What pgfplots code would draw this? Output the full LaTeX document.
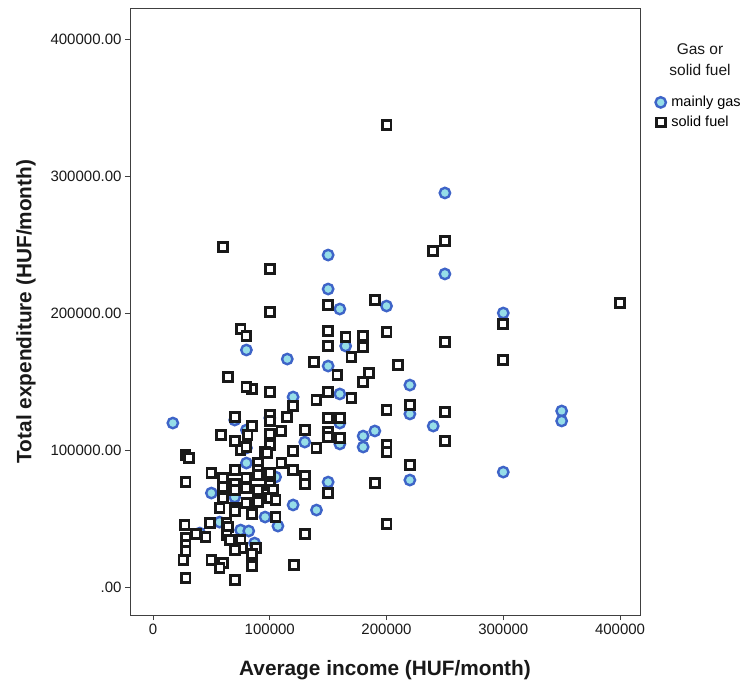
\documentclass[border=0pt]{standalone}
\usepackage{pgfplots}
\pgfplotsset{compat=1.18}
\usepackage{fontspec}
\setmainfont{Liberation Sans}
\definecolor{gasedge}{RGB}{62,100,200}
\definecolor{gasfill}{RGB}{150,222,232}
\begin{document}
\begin{tikzpicture}[x=1pt,y=1pt]
\useasboundingbox[fill=white] (0,0) rectangle (744,683);
\begin{axis}[
  at={(130pt,68pt)}, anchor=south west,
  width=510pt, height=607pt, scale only axis,
  xmin=-19700, xmax=417100, ymin=-20400, ymax=422600,
  axis line style={draw=black!75, line width=0.9pt},
  tick style={draw=black!75, line width=0.9pt},
  tick align=outside, major tick length=5pt,
  xtick pos=bottom, ytick pos=left,
  xtick={0,100000,200000,300000,400000},
  xticklabels={0,100000,200000,300000,400000},
  ytick={0,100000,200000,300000,400000},
  yticklabels={.00,100000.00,200000.00,300000.00,400000.00},
  scaled ticks=false,
  tick label style={font=\fontsize{15}{18}\selectfont, text=black!90},
  xlabel={\textbf{Average income (HUF/month)}},
  ylabel={\textbf{Total expenditure (HUF/month)}},
  label style={font=\fontsize{20.8}{24}\selectfont, text=black!90},
  xlabel style={yshift=-19pt},
  ylabel style={yshift=8pt},
  legend style={at={(1.030,0.858)}, anchor=north west, draw=none, fill=none,
    font=\fontsize{14.5}{17}\selectfont, row sep=4pt, inner sep=0pt},
  legend cell align=left,
  legend image code/.code={\draw[#1] plot coordinates {(0.15cm,0cm)};},
]
\addplot[only marks, mark=*, mark size=5.2pt,
  mark options={draw=gasedge, fill=gasfill, line width=2.4pt}] table {
x y
17000 119700
70000 121900
80000 173000
115000 166400
120000 138700
150000 242300
150000 217500
150000 161300
150000 76600
160000 202900
165000 175900
160000 140900
160000 119700
160000 104400
180000 110200
180000 102200
190000 113900
200000 205100
220000 147400
220000 126300
220000 78100
240000 117500
250000 287600
250000 228500
300000 200000
350000 128500
350000 121200
300000 83900
130000 105800
120000 59900
140000 56200
100000 123400
80000 114600
80000 101500
80000 90500
105000 80300
70000 65700
50000 68600
57000 47400
40000 39400
75000 41600
82000 40900
87000 32100
96000 51100
107000 44500
};
\addlegendentry{\kern3.5pt mainly gas}
\addplot[only marks, mark=square*, mark size=4.4pt,
  mark options={draw=black!90, fill=white, line width=2.8pt}] table {
x y
200000 337200
60000 248200
100000 232100
250000 252500
240000 245300
400000 207300
300000 192000
300000 165700
100000 200700
75000 188300
80000 183200
190000 209500
150000 205800
150000 186900
150000 175900
200000 186100
165000 182500
180000 183200
180000 175200
250000 178800
170000 167900
138000 164200
210000 162000
158000 154700
185000 156200
180000 149600
64000 153300
85000 144500
80000 146000
100000 142300
150000 142300
170000 138000
140000 136500
120000 132100
200000 129200
220000 132800
250000 127700
150000 123400
160000 123400
115000 124100
100000 125500
100000 121200
70000 124100
85000 117500
58000 110900
81000 110900
70000 106600
100000 111700
110000 113900
130000 114600
150000 113100
150000 109500
160000 108800
200000 103600
200000 98500
250000 106600
75000 100000
80000 102200
100000 103600
96000 98500
98000 97800
120000 99300
140000 101500
28000 96400
31000 94200
90000 90500
90000 85400
90000 81800
90000 70800
90000 62000
110000 90500
120000 85400
100000 83200
50000 83200
70000 85400
60000 79600
80000 79600
28000 76600
130000 81000
130000 75200
190000 75900
220000 89000
60000 73000
70000 75200
70000 70800
80000 72300
100000 74500
103000 70800
150000 68600
60000 65000
80000 61300
100000 65000
105000 63500
70000 57700
57000 57700
70000 55500
85000 53300
105000 51100
200000 46000
130000 38700
49000 46700
27000 45300
63000 46700
64000 43800
37000 38700
45000 36500
28000 35800
63000 38000
66000 34300
75000 34300
76000 28500
88000 28500
28000 30700
28000 26300
70000 27000
85000 24100
26000 19700
50000 19700
60000 17500
57000 13900
85000 15300
121000 16100
28000 6600
70000 5100
};
\addlegendentry{\kern3.5pt solid fuel}
\end{axis}
\node[align=center, font=\fontsize{15.5}{21}\selectfont, text=black!90] at (700,623) {Gas or\\solid fuel};
\end{tikzpicture}
\end{document}
